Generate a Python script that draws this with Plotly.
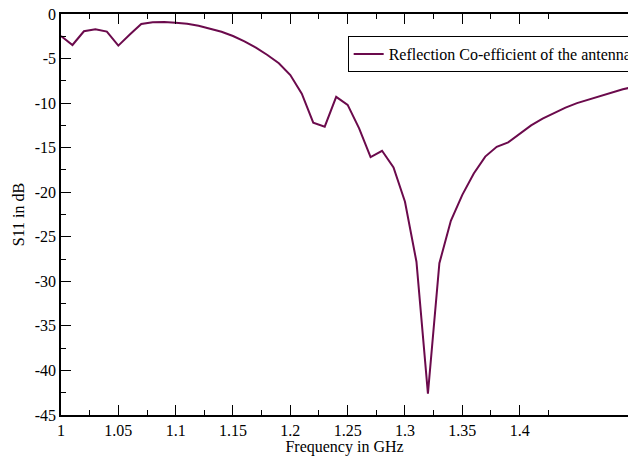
import plotly.graph_objects as go

freq_ghz = [1.00, 1.01, 1.02, 1.03, 1.04, 1.05, 1.06, 1.07, 1.08, 1.09,
            1.10, 1.11, 1.12, 1.13, 1.14, 1.15, 1.16, 1.17, 1.18, 1.19,
            1.20, 1.21, 1.22, 1.23, 1.24, 1.25, 1.26, 1.27, 1.28, 1.29,
            1.30, 1.31, 1.32, 1.33, 1.34, 1.35, 1.36, 1.37, 1.38, 1.39,
            1.40, 1.41, 1.42, 1.43, 1.44, 1.45, 1.46, 1.47, 1.48, 1.49, 1.50]
s11_db = [-2.47, -3.48, -1.94, -1.72, -1.98, -3.55, -2.3, -1.12, -0.93, -0.9,
          -0.97, -1.1, -1.32, -1.65, -2.0, -2.47, -3.07, -3.78, -4.6, -5.53,
          -6.85, -8.94, -12.2, -12.65, -9.3, -10.2, -12.83, -16.05, -15.35, -17.22,
          -21.07, -27.8, -42.6, -27.97, -23.2, -20.3, -17.9, -16.0, -14.9, -14.4,
          -13.45, -12.5, -11.75, -11.1, -10.5, -10.0, -9.6, -9.17, -8.8, -8.45, -8.15]

x_tick_vals = [1.0, 1.05, 1.1, 1.15, 1.2, 1.25, 1.3, 1.35, 1.4]
x_tick_text = ["1", "1.05", "1.1", "1.15", "1.2", "1.25", "1.3", "1.35", "1.4"]
x_minor_vals = [1.025, 1.075, 1.125, 1.175, 1.225, 1.275, 1.325, 1.375, 1.425]
y_tick_vals = [0, -5, -10, -15, -20, -25, -30, -35, -40, -45]
y_tick_text = ["0", "-5", "-10", "-15", "-20", "-25", "-30", "-35", "-40", "-45"]
y_minor_vals = [-2.5, -7.5, -12.5, -17.5, -22.5, -27.5, -32.5, -37.5, -42.5]

series_name = "Reflection Co-efficient of the antenna"

fig = go.Figure()
fig.add_trace(go.Scatter(x=freq_ghz, y=s11_db, mode="lines", name=series_name,
                         line=dict(color="#6b0a4c", width=2)))

font_family = "Liberation Serif"
fig.update_layout(
    width=628, height=456,
    margin=dict(l=61, r=0, t=14, b=41, autoexpand=False),
    paper_bgcolor="white", plot_bgcolor="white",
    font=dict(family=font_family, size=16, color="black"),
    showlegend=True,
    legend=dict(x=0.5056, y=0.945, xanchor="left", yanchor="top",
                bordercolor="black", borderwidth=1, bgcolor="white",
                font=dict(family=font_family, size=16, color="black"),
                itemwidth=30),
    xaxis=dict(range=[1.0, 1.4945], tickvals=x_tick_vals, ticktext=x_tick_text,
               ticks="inside", ticklen=10, tickwidth=1, tickcolor="black",
               showline=True, linecolor="black", linewidth=1.5, mirror="allticks",
               showgrid=False, zeroline=False,
               tickfont=dict(family=font_family, size=16, color="black"),
               title=dict(text="Frequency in GHz", standoff=0,
                          font=dict(family=font_family, size=16, color="black")),
               minor=dict(tickvals=x_minor_vals, ticks="inside", ticklen=5,
                          tickcolor="black", tickwidth=1, showgrid=False)),
    yaxis=dict(range=[-45, 0], tickvals=y_tick_vals, ticktext=y_tick_text,
               ticks="inside", ticklen=10, tickwidth=1, tickcolor="black",
               showline=True, linecolor="black", linewidth=1.5, mirror=False,
               showgrid=False, zeroline=False,
               tickfont=dict(family=font_family, size=16, color="black"),
               title=dict(text="S11 in dB", standoff=6,
                          font=dict(family=font_family, size=16, color="black")),
               minor=dict(tickvals=y_minor_vals, ticks="inside", ticklen=5,
                          tickcolor="black", tickwidth=1, showgrid=False)),
)

fig.write_html("out.html")
